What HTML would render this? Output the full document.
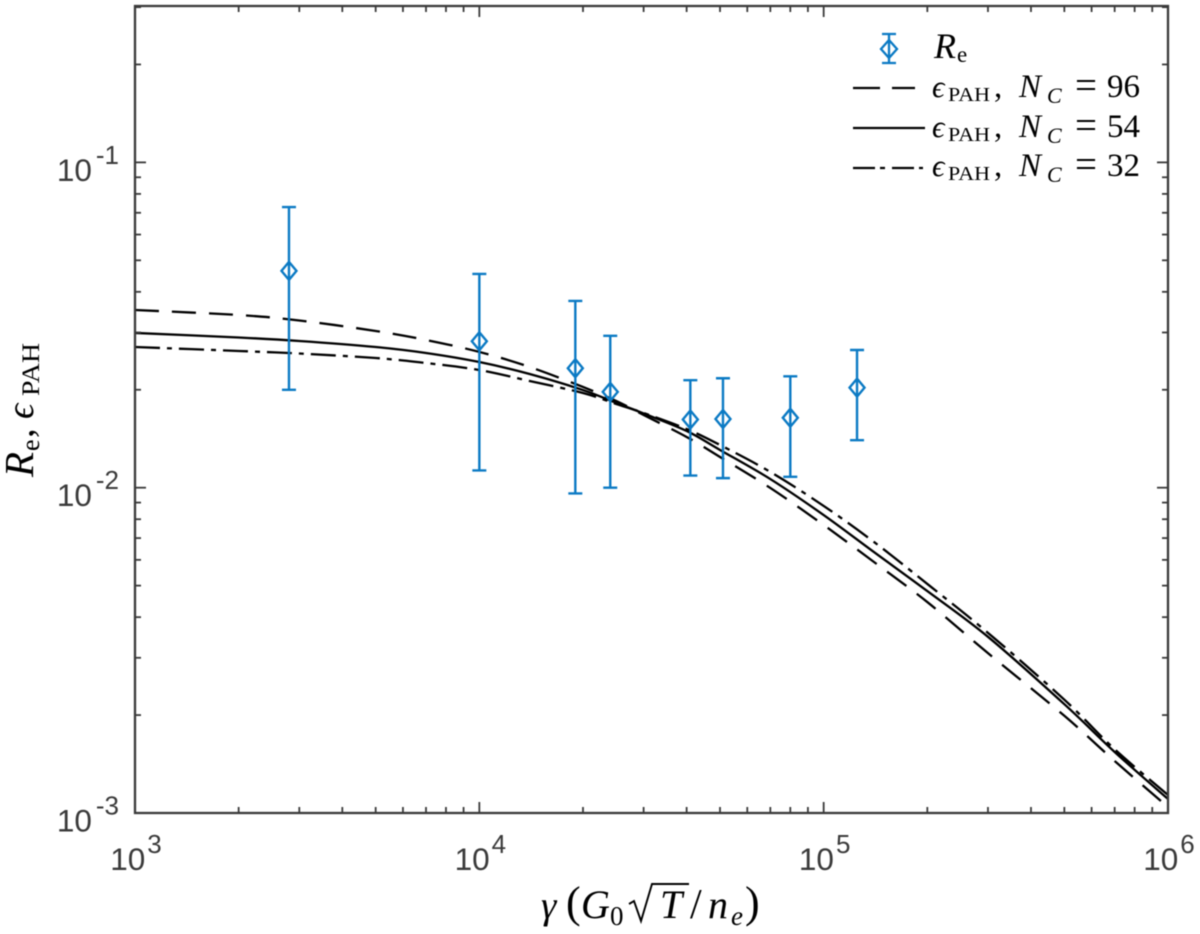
<!DOCTYPE html>
<html lang="en">
<head>
<meta charset="utf-8">
<title>Re and epsilon PAH versus gamma</title>
<style>
html,body{margin:0;padding:0;background:#fff;}
body{width:1200px;height:934px;overflow:hidden;}
svg{display:block;filter:blur(0.45px);}
.tick{font-family:"Liberation Sans",Arial,sans-serif;font-size:31.5px;fill:#3a3a3a;}
.math{font-family:"Liberation Serif","DejaVu Serif",serif;fill:#000;}
.it{font-style:italic;}
</style>
</head>
<body>
<svg id="chart" xmlns="http://www.w3.org/2000/svg" width="1200" height="934" viewBox="0 0 1200 934">
  <rect x="0" y="0" width="1200" height="934" fill="#ffffff"/>
  <g id="curves"></g>
  <g id="points"></g>
  <g id="axes"></g>

  <g class="math">
    <text class="math it" x="541" y="918" font-size="39">γ</text>
    <text class="math" x="566" y="917" font-size="44">(</text>
    <text class="math it" x="581" y="918" font-size="40">G</text>
    <text class="math" x="610" y="925" font-size="27">0</text>
    <path d="M629 904 L634 901 L641 921 L652 884 L689 884" fill="none" stroke="#000" stroke-width="1.9"/>
    <text class="math it" x="660" y="918" font-size="40">T</text>
    <text class="math" x="690" y="918" font-size="42">/</text>
    <text class="math it" x="708" y="918" font-size="40">n</text>
    <text class="math it" x="731" y="925" font-size="27">e</text>
    <text class="math" x="745" y="917" font-size="44">)</text>
  </g>

  <g transform="translate(33 477) rotate(-90)">
    <text class="math it" x="0" y="0" font-size="41">R</text>
    <text class="math" x="26" y="6" font-size="26">e</text>
    <text class="math" x="39" y="0" font-size="39">,</text>
    <text class="math it" x="58" y="0" font-size="38">ϵ</text>
    <text class="math" x="81" y="6" font-size="25" textLength="53" lengthAdjust="spacingAndGlyphs">PAH</text>
  </g>

  <g id="legend">
    <g>
      <path d="M889 34V63M882 34H896M882 63H896M889 40L897 49L889 58L881 49Z" fill="none" stroke="#0b7ac4" stroke-width="2.3"/>
      <text class="math it" x="934" y="58" font-size="36">R</text>
      <text class="math" x="957" y="62" font-size="23">e</text>
    </g>
    <g>
      <line x1="853" y1="88" x2="915" y2="88" stroke="#000" stroke-width="2.2" stroke-dasharray="27 12"/>
      <text class="math it" x="932" y="97" font-size="31">ϵ</text>
      <text class="math" x="948" y="101" font-size="20" textLength="42" lengthAdjust="spacingAndGlyphs">PAH</text>
      <text class="math" x="994" y="97" font-size="33">,</text>
      <text class="math it" x="1019" y="97" font-size="33">N</text>
      <text class="math it" x="1047" y="103" font-size="22">C</text>
      <text class="math" x="1075" y="98" font-size="39">=</text>
      <text class="math" x="1107" y="97" font-size="33">96</text>
    </g>
    <g>
      <line x1="853" y1="128" x2="925" y2="128" stroke="#000" stroke-width="2.2"/>
      <text class="math it" x="932" y="137" font-size="31">ϵ</text>
      <text class="math" x="948" y="141" font-size="20" textLength="42" lengthAdjust="spacingAndGlyphs">PAH</text>
      <text class="math" x="994" y="137" font-size="33">,</text>
      <text class="math it" x="1019" y="137" font-size="33">N</text>
      <text class="math it" x="1047" y="143" font-size="22">C</text>
      <text class="math" x="1075" y="138" font-size="39">=</text>
      <text class="math" x="1107" y="137" font-size="33">54</text>
    </g>
    <g>
      <line x1="853" y1="168" x2="923" y2="168" stroke="#000" stroke-width="2.2" stroke-dasharray="22 5 5 7"/>
      <text class="math it" x="932" y="176" font-size="31">ϵ</text>
      <text class="math" x="948" y="180" font-size="20" textLength="42" lengthAdjust="spacingAndGlyphs">PAH</text>
      <text class="math" x="994" y="176" font-size="33">,</text>
      <text class="math it" x="1019" y="176" font-size="33">N</text>
      <text class="math it" x="1047" y="182" font-size="22">C</text>
      <text class="math" x="1075" y="177" font-size="39">=</text>
      <text class="math" x="1107" y="176" font-size="33">32</text>
    </g>
  </g>
</svg>
<script>
const gammaGrid = [1000,2000,3000,5000,7000,10000,14000,20000,25000,30000,40000,50000,70000,100000,140000,200000,300000,500000,700000,1000000];
const epsNc96 = [0.03518,0.03395,0.03266,0.03032,0.02845,0.02614,0.0235,0.0204,0.01847,0.01673,0.01432,0.01243,0.00998,0.00768,0.00591,0.00445,0.0031,0.00199,0.001445,0.001043];
const epsNc54 = [0.0299,0.02895,0.02825,0.02707,0.02595,0.02434,0.02236,0.01996,0.01821,0.01691,0.01494,0.01306,0.01063,0.00824,0.00634,0.00481,0.00348,0.00216,0.00154,0.001104];
const epsNc32 = [0.02707,0.02632,0.02585,0.02504,0.02417,0.023,0.02128,0.01955,0.01808,0.01697,0.01515,0.01353,0.01118,0.00879,0.00681,0.00506,0.00358,0.00223,0.00157,0.001136];
const pointGamma = [2800,10000,19000,24000,41000,51000,80000,125000];
const pointRe = [0.0464,0.0282,0.0233,0.0197,0.0162,0.01626,0.0164,0.0203];
const pointUpper = [0.0729,0.0454,0.0375,0.0293,0.0214,0.0217,0.022,0.0265];
const pointLower = [0.02,0.0113,0.0096,0.01,0.0109,0.0107,0.0108,0.014];
const xDecades = [3,4,5,6];
const yDecades = [-3,-2,-1];
const minorFactors = [2,3,4,5,6,7,8,9];

const SVGNS = 'http://www.w3.org/2000/svg';
const plotLeft = 135, plotRight = 1168, plotTop = 6, plotBottom = 813;
const xMinLog = 3, xMaxLog = 6, yMinLog = -3, yMaxLog = Math.log10(0.3025);
function xScale(v){ return plotLeft + (Math.log10(v) - xMinLog) / (xMaxLog - xMinLog) * (plotRight - plotLeft); }
function yScale(v){ return plotBottom - (Math.log10(v) - yMinLog) / (yMaxLog - yMinLog) * (plotBottom - plotTop); }
function make(tag, attrs){
  const el = document.createElementNS(SVGNS, tag);
  for (const k in attrs) el.setAttribute(k, attrs[k]);
  return el;
}
function smoothPath(xs, ys){
  const pts = xs.map((x, i) => [xScale(x), yScale(ys[i])]);
  let d = 'M' + pts[0][0].toFixed(2) + ' ' + pts[0][1].toFixed(2);
  for (let i = 0; i < pts.length - 1; i++) {
    const p0 = pts[Math.max(i - 1, 0)], p1 = pts[i], p2 = pts[i + 1], p3 = pts[Math.min(i + 2, pts.length - 1)];
    const c1x = p1[0] + (p2[0] - p0[0]) / 6, c1y = p1[1] + (p2[1] - p0[1]) / 6;
    const c2x = p2[0] - (p3[0] - p1[0]) / 6, c2y = p2[1] - (p3[1] - p1[1]) / 6;
    d += 'C' + c1x.toFixed(2) + ' ' + c1y.toFixed(2) + ' ' + c2x.toFixed(2) + ' ' + c2y.toFixed(2) + ' ' + p2[0].toFixed(2) + ' ' + p2[1].toFixed(2);
  }
  return d;
}

const curvesG = document.getElementById('curves');
const curve96 = make('path', {d: smoothPath(gammaGrid, epsNc96), fill: 'none', stroke: '#000', 'stroke-width': 2.3, 'stroke-dasharray': '24 13'});


curvesG.appendChild(curve96);
const curve54 = make('path', {d: smoothPath(gammaGrid, epsNc54), fill: 'none', stroke: '#000', 'stroke-width': 2.3});


curvesG.appendChild(curve54);
const curve32 = make('path', {d: smoothPath(gammaGrid, epsNc32), fill: 'none', stroke: '#000', 'stroke-width': 2.3, 'stroke-dasharray': '25 7 5 7'});


curvesG.appendChild(curve32);

const pointsG = document.getElementById('points');
pointGamma.forEach((g, i) => {
  const x = xScale(g), y = yScale(pointRe[i]), yu = yScale(pointUpper[i]), yl = yScale(pointLower[i]);
  const d = 'M' + x + ' ' + yu + 'V' + yl + 'M' + (x - 7) + ' ' + yu + 'H' + (x + 7) + 'M' + (x - 7) + ' ' + yl + 'H' + (x + 7) +
            'M' + x + ' ' + (y - 9) + 'L' + (x + 7.5) + ' ' + y + 'L' + x + ' ' + (y + 9) + 'L' + (x - 7.5) + ' ' + y + 'Z';
  const mark = make('path', {d: d, fill: 'none', stroke: '#0b7ac4', 'stroke-width': 2.4});
  
  
  pointsG.appendChild(mark);
});

const axesG = document.getElementById('axes');
const axisColor = '#3a3a3a';
function tick(x1, y1, x2, y2, w){
  const t = make('line', {x1: x1, y1: y1, x2: x2, y2: y2, stroke: axisColor, 'stroke-width': w});
  
  
  axesG.appendChild(t);
}
const majorLen = 11, minorLen = 6;
xDecades.forEach(e => {
  const x = xScale(Math.pow(10, e));
  tick(x, plotBottom, x, plotBottom - majorLen, 1.8);
  tick(x, plotTop, x, plotTop + majorLen, 1.8);
  const label = make('text', {x: x + 1, y: 870, 'text-anchor': 'middle', class: 'tick'});
  
  
  label.appendChild(document.createTextNode('10'));
  const sup = make('tspan', {dy: -17, dx: 2, 'font-size': 26});
  sup.textContent = String(e);
  label.appendChild(sup);
  axesG.appendChild(label);
  if (e < xMaxLog) minorFactors.forEach(m => {
    const mx = xScale(m * Math.pow(10, e));
    tick(mx, plotBottom, mx, plotBottom - minorLen, 1.8);
    tick(mx, plotTop, mx, plotTop + minorLen, 1.8);
  });
});
yDecades.forEach(e => {
  const y = yScale(Math.pow(10, e));
  tick(plotLeft, y, plotLeft + majorLen, y, 1.8);
  tick(plotRight, y, plotRight - majorLen, y, 1.8);
  const label = make('text', {x: 119, y: y + 18.5, 'text-anchor': 'end', class: 'tick'});
  
  
  label.appendChild(document.createTextNode('10'));
  const sup = make('tspan', {dy: -17, dx: 4, 'font-size': 26});
  sup.textContent = String(e);
  label.appendChild(sup);
  axesG.appendChild(label);
  minorFactors.forEach(m => {
    const v = m * Math.pow(10, e);
    if (Math.log10(v) <= yMaxLog) {
      const my = yScale(v);
      tick(plotLeft, my, plotLeft + minorLen, my, 1.8);
      tick(plotRight, my, plotRight - minorLen, my, 1.8);
    }
  });
});
const frame = make('rect', {x: plotLeft, y: plotTop, width: plotRight - plotLeft, height: plotBottom - plotTop, fill: 'none', stroke: axisColor, 'stroke-width': 2.3});


axesG.appendChild(frame);
</script>
</body>
</html>
